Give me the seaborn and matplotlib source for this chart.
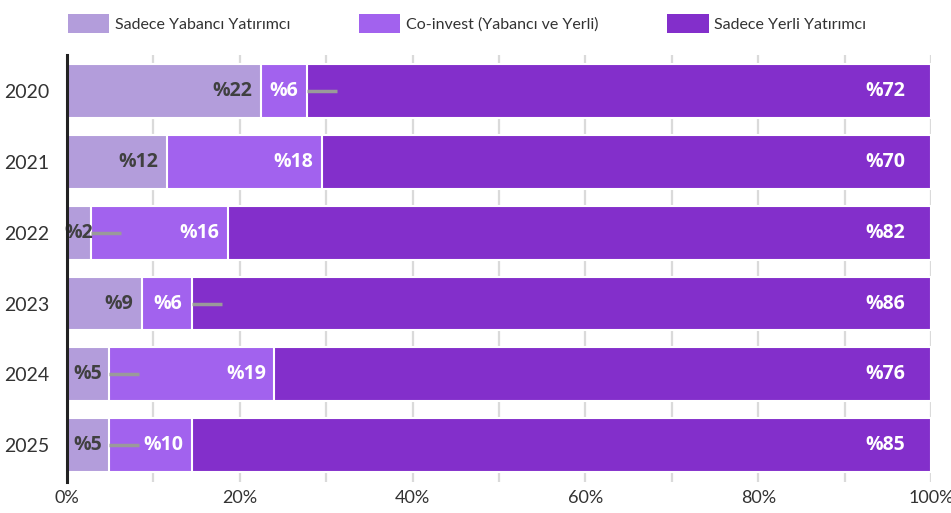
import numpy as np
import pandas as pd
import seaborn as sns
import matplotlib.pyplot as plt
from matplotlib.patches import Patch

# data (share of deals, %)
years = ['2020', '2021', '2022', '2023', '2024', '2025']
series = ['Sadece Yabancı Yatırımcı', 'Co-invest (Yabancı ve Yerli)', 'Sadece Yerli Yatırımcı']
foreign = [22.45, 11.6, 2.8, 8.7, 4.9, 4.9]
coinvest = [5.35, 17.9, 15.8, 5.8, 19.1, 9.6]
domestic = [72.2, 70.5, 81.4, 85.5, 76.0, 85.5]
lab_foreign = ['%22', '%12', '%2', '%9', '%5', '%5']
lab_coinvest = ['%6', '%18', '%16', '%6', '%19', '%10']
lab_domestic = ['%72', '%70', '%82', '%86', '%76', '%85']

colors = ['#b39ddb', '#a262ee', '#832fcb']
label_colors = ['#404040', 'white', 'white']

sns.set_theme(style='white')
plt.rcParams['font.family'] = ['Lato', 'DejaVu Sans']

df = pd.DataFrame({'year': years, 'foreign': foreign, 'coinvest': coinvest, 'domestic': domestic})
df['c1'] = df['foreign']
df['c2'] = df['foreign'] + df['coinvest']
df['c3'] = df['c2'] + df['domestic']

fig = plt.figure(figsize=(9.51, 5.13), dpi=100)
ax = fig.add_axes([0.0705, 0.0604, 0.9085, 0.8324])

# stacked bars drawn as overlapping cumulative totals
for col, c in zip(['c3', 'c2', 'c1'], colors[::-1]):
    sns.barplot(data=df, x=col, y='year', order=years, orient='h', color=c,
                saturation=1, width=0.76, edgecolor='white', linewidth=1.5,
                ax=ax, zorder=2)

ax.set_xlim(0, 100)
ax.set_ylim(5.52, -0.51)
ax.set_xticks(np.arange(0, 101, 10))
ax.set_xticklabels([f'{t}%' if t % 20 == 0 else '' for t in range(0, 101, 10)])
ax.grid(axis='x', color='#dadada', linewidth=1.6, zorder=0)
ax.set_axisbelow(True)
ax.set_xlabel('')
ax.set_ylabel('')
ax.tick_params(axis='both', length=0, labelsize=13, colors='#333333')
ax.tick_params(axis='y', pad=13, labelsize=14)
ax.tick_params(axis='x', pad=6)
for s in ['top', 'right', 'bottom']:
    ax.spines[s].set_visible(False)
ax.spines['left'].set_color('#222222')
ax.spines['left'].set_linewidth(2.2)
ax.spines['left'].set_zorder(5)

# value labels and leader lines
vals = [foreign, coinvest, domestic]
labs = [lab_foreign, lab_coinvest, lab_domestic]
lab_font = dict(fontsize=14, fontweight='bold', family=['Open Sans', 'DejaVu Sans'])
for i in range(len(years)):
    left = 0
    for k in range(3):
        w = vals[k][i]
        end = left + w
        if k == 2:
            ax.text(end - 3, i, labs[k][i], ha='right', va='center',
                    color=label_colors[k], zorder=4, **lab_font)
        elif w < 7:
            ax.plot([end, end + 3.4], [i, i], color='#9a9a9a', lw=2.5,
                    solid_capstyle='butt', zorder=3)
            ax.text(left + w / 2, i, labs[k][i], ha='center', va='center',
                    color=label_colors[k], zorder=4, **lab_font)
        else:
            ax.text(end - 1, i, labs[k][i], ha='right', va='center',
                    color=label_colors[k], zorder=4, **lab_font)
        left = end

handles = [Patch(facecolor=c, edgecolor='none') for c in colors]
fig.legend(handles, series, loc='upper left', bbox_to_anchor=(0.056, 1.0), ncol=3,
           frameon=False, fontsize=11.5, handlelength=2.6, handleheight=1.4,
           columnspacing=4.3, handletextpad=0.35, labelcolor='#333333')

fig.savefig('out.png', dpi=100)
